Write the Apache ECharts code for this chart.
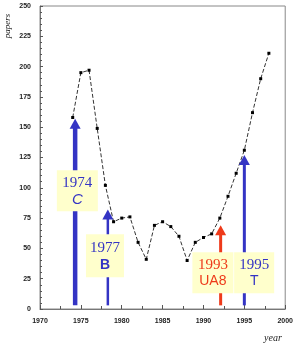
<!DOCTYPE html>
<html><head><meta charset="utf-8">
<script src="https://cdn.jsdelivr.net/npm/echarts@6/dist/echarts.min.js"></script>
<style>html,body{margin:0;padding:0;background:#fff}#c{width:296px;height:346px}</style>
</head><body><div id="c"></div>
<script>
// ---- data ----
var years = [1974,1975,1976,1977,1978,1979,1980,1981,1982,1983,1984,1985,1986,1987,1988,1989,1990,1991,1992,1993,1994,1995,1996,1997,1998];
var papers = [158,195,197,149,102,72,75,76,55,41,69,72,68,60,40,55,59,62,75,93,112,131,162,190,211];
var annYears  = ['1974','1977','1993','1995'];
var annNames  = ['C','B','UA8','T'];
var arrowX    = [1974.3,1978.3,1992.1,1995.0];
var arrowTip  = [157,82,69,127];
var arrowBase = [3,3,3,3];
var xTicks = [1970,1975,1980,1985,1990,1995,2000];

// ---- layout / style (not data) ----
var annColor = ['#3434c4','#3434c4','#ee3a1a','#3434c4'];
var shaftW   = [4.5,2.5,3,3];
var boxCenter = [[1974.57,97.5],[1977.95,44],[1991.15,30],[1996.2,30]];
var boxSize   = [[41,41],[38,43],[41,41],[40,41]];
var nameFont  = ['italic 15px "Liberation Sans"','bold 14px "Liberation Sans"','14px "Liberation Sans"','14px "Liberation Sans"'];

var annData = annYears.map(function(y,i){return [arrowX[i],arrowTip[i],arrowBase[i],i];});

var chart = echarts.init(document.getElementById('c'), null, {renderer:'canvas'});
chart.setOption({
  animation:false,
  grid:{left:40,right:10,top:6,bottom:37,show:true,borderColor:'#888',borderWidth:1,backgroundColor:'transparent'},
  xAxis:{type:'value',min:1970,max:2000,interval:5,
    axisLine:{lineStyle:{color:'#777'}},
    axisTick:{inside:true,length:4,lineStyle:{color:'#555'}},
    minorTick:{show:true,splitNumber:2,length:3,lineStyle:{color:'#555'}},
    splitLine:{show:false},
    axisLabel:{margin:9,fontSize:7,fontWeight:'bold',color:'#222',fontFamily:'Liberation Sans',
      formatter:function(v){return xTicks.indexOf(v)>=0?String(v):'';}}},
  yAxis:{type:'value',min:0,max:250,interval:25,
    axisLine:{show:true,lineStyle:{color:'#777'}},
    axisTick:{show:true,inside:true,length:3,lineStyle:{color:'#555'}},
    minorTick:{show:true,splitNumber:5,length:2,lineStyle:{color:'#555'}},
    splitLine:{show:false},
    axisLabel:{margin:9,fontSize:7,fontWeight:'bold',color:'#222',fontFamily:'Liberation Sans'}},
  graphic:[
    {type:'text',x:8,y:26,rotation:Math.PI/2,style:{text:'papers',font:'italic 9px "Liberation Serif"',fill:'#222',textAlign:'center',textVerticalAlign:'middle'}},
    {type:'text',x:273,y:338,style:{text:'year',font:'italic 10px "Liberation Serif"',fill:'#222',textAlign:'center',textVerticalAlign:'middle'}}
  ],
  series:[
    {type:'line',data:years.map(function(y,i){return [y,papers[i]];}),
     lineStyle:{color:'#333',width:1,type:[4,2]},symbol:'rect',symbolSize:3,
     itemStyle:{color:'#000'},z:3},
    {type:'custom',data:annData,z:5,
     renderItem:function(params,api){
       var i=api.value(3);
       var tip=api.coord([api.value(0),api.value(1)]);
       var base=api.coord([api.value(0),api.value(2)]);
       var bc=api.coord(boxCenter[i]);
       var bw=boxSize[i][0],bh=boxSize[i][1];
       var col=annColor[i],hl=10,hw=5.5;
       return {type:'group',children:[
         {type:'rect',shape:{x:tip[0]-shaftW[i]/2,y:tip[1]+hl-1,width:shaftW[i],height:base[1]-tip[1]-hl+1},style:{fill:col}},
         {type:'polygon',shape:{points:[[tip[0],tip[1]],[tip[0]-hw,tip[1]+hl],[tip[0]+hw,tip[1]+hl]]},style:{fill:col}},
         {type:'rect',shape:{x:bc[0]-bw/2,y:bc[1]-bh/2,width:bw,height:bh},style:{fill:'#ffffcc'}},
         {type:'text',x:bc[0],y:bc[1]-8,style:{text:annYears[i],font:'15px "Liberation Serif"',fill:col,textAlign:'center',textVerticalAlign:'middle'}},
         {type:'text',x:bc[0],y:bc[1]+9,style:{text:annNames[i],font:nameFont[i],fill:col,textAlign:'center',textVerticalAlign:'middle'}}
       ]};
     }}
  ]
});
</script></body></html>
